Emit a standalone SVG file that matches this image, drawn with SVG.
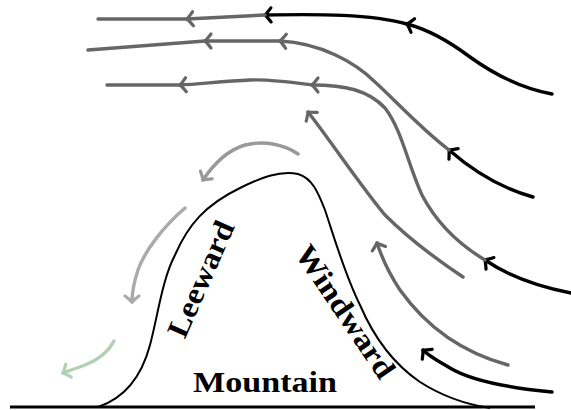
<svg xmlns="http://www.w3.org/2000/svg" width="571" height="410" viewBox="0 0 571 410">
  <style>
    .flow { fill: none; stroke-width: 3.4; stroke-linecap: round; }
    .k { stroke: #000; }
    .g { stroke: #666; }
    .lg1 { stroke: #999; }
    .lg2 { stroke: #aaa; }
    .gr { stroke: #b2d0b2; }
    .outline { fill: none; stroke: #000; stroke-width: 2; }
    .ground { fill: none; stroke: #000; stroke-width: 3; }
    .label { font-family: "Liberation Serif", "Times New Roman", serif; font-weight: bold; font-size: 30px; fill: #000; }
    .head { fill: none; stroke-width: 3.2; stroke-linecap: round; stroke-linejoin: round; }
  </style>
  <defs>
    <marker id="ak" markerUnits="userSpaceOnUse" orient="auto" viewBox="-9 -9 11 18" markerWidth="11" markerHeight="18" refX="0" refY="0" overflow="visible">
      <path class="head" stroke="#000" d="M-6,-7 Q-2,-1.8 0,0 Q-2,1.8 -6,7"/>
    </marker>
    <marker id="ag" markerUnits="userSpaceOnUse" orient="auto" viewBox="-9 -9 11 18" markerWidth="11" markerHeight="18" refX="0" refY="0" overflow="visible">
      <path class="head" stroke="#666" d="M-6,-7 Q-2,-1.8 0,0 Q-2,1.8 -6,7"/>
    </marker>
    <marker id="al1" markerUnits="userSpaceOnUse" orient="auto" viewBox="-9 -9 11 18" markerWidth="11" markerHeight="18" refX="0" refY="0" overflow="visible">
      <path class="head" stroke="#999" d="M-6,-7 Q-2,-1.8 0,0 Q-2,1.8 -6,7"/>
    </marker>
    <marker id="al2" markerUnits="userSpaceOnUse" orient="auto" viewBox="-9 -9 11 18" markerWidth="11" markerHeight="18" refX="0" refY="0" overflow="visible">
      <path class="head" stroke="#aaa" d="M-6,-7 Q-2,-1.8 0,0 Q-2,1.8 -6,7"/>
    </marker>
    <marker id="agr" markerUnits="userSpaceOnUse" orient="auto" viewBox="-9 -9 11 18" markerWidth="11" markerHeight="18" refX="0" refY="0" overflow="visible">
      <path class="head" stroke="#b2d0b2" d="M-6,-7 Q-2,-1.8 0,0 Q-2,1.8 -6,7"/>
    </marker>
  </defs>

  <!-- terrain -->
  <g id="mountain">
    <path class="ground" d="M10,407 L535,407"/>
    <path class="outline" d="M98,407 C125,398 142,375 150,345 C158,315 162,280 175,255 C188,225 205,205 240,188 C260,178 280,170 298,174 C312,178 318,192 325,210 C335,240 345,275 360,305 C375,340 395,365 420,382 C445,398 470,405 490,408"/>
    <text class="label" x="193" y="392" textLength="144" lengthAdjust="spacingAndGlyphs">Mountain</text>
  </g>
  <g id="leeward">
    <text class="label" transform="translate(210,283) rotate(-66)" text-anchor="middle" textLength="124" lengthAdjust="spacingAndGlyphs">Leeward</text>
  </g>
  <g id="windward">
    <text class="label" transform="translate(337,317) rotate(56)" text-anchor="middle" textLength="154" lengthAdjust="spacingAndGlyphs">Windward</text>
  </g>

  <!-- airflow streamlines, right to left -->
  <g id="connectors">
    <!-- top streamline -->
    <path class="flow k" marker-end="url(#ak)" d="M552,94 C520,88 495,75 470,57 C450,42 430,30 407,24"/>
    <path class="flow k" marker-end="url(#ak)" d="M407,24 C370,14 320,14 265,15"/>
    <path class="flow g" marker-end="url(#ag)" d="M265,15 L187,19"/>
    <path class="flow g" d="M187,19 L98,19"/>

    <!-- second streamline -->
    <path class="flow k" marker-end="url(#ak)" d="M533,197 C500,188 472,170 449,150"/>
    <path class="flow g" marker-end="url(#ag)" d="M449,150 C420,128 395,100 375,82 C355,62 320,43 280,41"/>
    <path class="flow g" marker-end="url(#ag)" d="M280,41 L205,41"/>
    <path class="flow g" d="M205,41 L88,50"/>

    <!-- third streamline -->
    <path class="flow k" marker-end="url(#ak)" d="M571,293 C540,287 510,277 485,260"/>
    <path class="flow g" marker-end="url(#ag)" d="M485,260 C455,242 435,220 422,195 C408,165 402,130 385,108 C368,90 345,85 312,85"/>
    <path class="flow g" marker-end="url(#ag)" d="M312,85 C290,82 270,79 250,80 C225,81 200,84 180,85"/>
    <path class="flow g" d="M180,85 L107,85"/>

    <!-- windward rising air -->
    <path class="flow g" marker-end="url(#ag)" d="M463,277 C430,255 405,235 385,215 C360,185 330,140 308,112"/>
    <path class="flow g" marker-end="url(#ag)" d="M508,365 C460,352 425,325 400,290 C390,275 382,258 377,243"/>
    <path class="flow k" marker-end="url(#ak)" d="M552,392 C510,388 470,380 450,368 C440,362 430,357 423,350"/>

    <!-- leeward descending air -->
    <path class="flow lg1" marker-end="url(#al1)" d="M298,154 C285,145 265,140 245,145 C228,150 213,165 203,180"/>
    <path class="flow lg2" marker-end="url(#al2)" d="M185,208 C165,225 145,250 138,270 C134,282 132,292 132,302"/>
    <path class="flow gr" marker-end="url(#agr)" d="M114,341 C108,352 98,360 85,365 C78,368 70,370 63,373"/>
  </g>
</svg>
